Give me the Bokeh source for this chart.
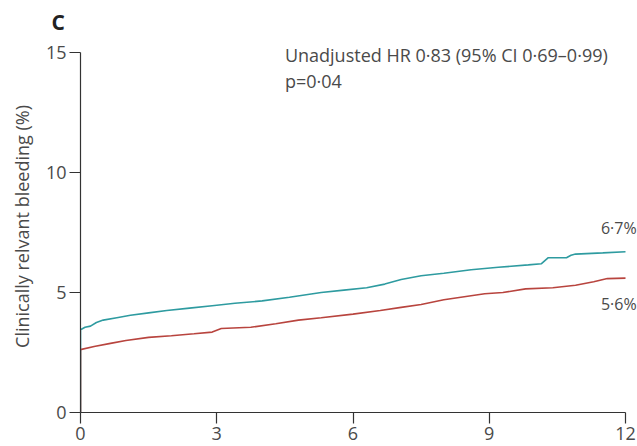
from bokeh.plotting import figure
from bokeh.models import Range1d, Label, FixedTicker
from bokeh.embed import file_html
from bokeh.resources import INLINE

# Data (months, cumulative %)
cyan_t = [0, 0, 0.1, 0.22, 0.35, 0.5, 0.8, 1.1, 1.5, 1.9, 2.4, 2.9, 3.4, 4.0, 4.6, 5.3,
          5.8, 6.3, 6.7, 7.06, 7.5, 8.0, 8.6, 9.2, 9.86, 10.15, 10.3, 10.7, 10.8, 10.9, 11.5, 12.0]
cyan_v = [0, 3.45, 3.55, 3.6, 3.75, 3.85, 3.95, 4.05, 4.15, 4.25, 4.35, 4.45, 4.55, 4.65, 4.8, 5.0,
          5.1, 5.2, 5.35, 5.54, 5.7, 5.8, 5.95, 6.05, 6.15, 6.2, 6.45, 6.45, 6.55, 6.6, 6.65, 6.7]
red_t = [0, 0, 0.3, 0.66, 1.0, 1.5, 2.0, 2.5, 2.9, 3.1, 3.75, 4.3, 4.8, 5.3, 6.0, 6.6,
         7.06, 7.5, 8.0, 8.9, 9.3, 9.8, 10.4, 10.9, 11.3, 11.6, 12.0]
red_v = [0, 2.62, 2.75, 2.88, 3.0, 3.13, 3.2, 3.28, 3.35, 3.5, 3.55, 3.7, 3.85, 3.95, 4.1, 4.25,
         4.38, 4.5, 4.7, 4.95, 5.0, 5.15, 5.2, 5.3, 5.45, 5.58, 5.6]
x_ticks = [0, 3, 6, 9, 12]
y_ticks = [0, 5, 10, 15]
end_labels = ["6·7%", "5·6%"]

FONT = "Open Sans"
TXT = "#4a4a4a"

LEFT, TOP, BOTTOM, W, H = 80, 40, 34, 637, 446
px_per_month = 545 / 12.0
px_per_pct = 24.0
x_end = (W - LEFT) / px_per_month
y_end = (H - TOP - BOTTOM) / px_per_pct

p = figure(width=W, height=H, output_backend="svg", toolbar_location=None,
           x_range=Range1d(0, x_end), y_range=Range1d(0, y_end),
           min_border_left=LEFT, min_border_right=0, min_border_top=TOP,
           min_border_bottom=BOTTOM)
p.outline_line_color = None
p.xgrid.visible = False
p.ygrid.visible = False
p.background_fill_color = "white"
p.border_fill_color = "white"

p.title.text = "C"
p.title.align = "left"
p.title.offset = -29
p.title.text_font = FONT
p.title.text_font_size = "21px"
p.title.text_font_style = "bold"
p.title.text_color = "#222222"
p.title.standoff = 10

p.line(cyan_t, cyan_v, line_color="#2e9ba0", line_width=1.6)
p.line(red_t, red_v, line_color="#b8443e", line_width=1.6)

for ax in (p.xaxis[0], p.yaxis[0]):
    ax.axis_line_color = "#333333"
    ax.axis_line_width = 1.2
    ax.major_tick_line_color = "#333333"
    ax.major_tick_line_width = 1.2
    ax.major_tick_in = 0
    ax.major_tick_out = 11
    ax.minor_tick_line_color = None
    ax.major_label_text_font = FONT
    ax.major_label_text_font_size = "18px"
    ax.major_label_text_color = TXT
    ax.major_label_standoff = 3

p.xaxis[0].ticker = FixedTicker(ticks=x_ticks)
p.yaxis[0].ticker = FixedTicker(ticks=y_ticks)
p.xaxis[0].bounds = (0, 12)
p.yaxis[0].bounds = (0, 15)
p.yaxis[0].axis_label = "Clinically relvant bleeding (%)"
p.yaxis[0].axis_label_text_font = FONT
p.yaxis[0].axis_label_text_font_style = "normal"
p.yaxis[0].axis_label_text_font_size = "18px"
p.yaxis[0].axis_label_text_color = TXT
p.yaxis[0].axis_label_standoff = 9

p.add_layout(Label(x=4.5, y=14.88, text="Unadjusted HR 0·83 (95% CI 0·69–0·99)",
                   text_font=FONT, text_font_size="18px", text_color=TXT,
                   text_align="left", text_baseline="middle"))
p.add_layout(Label(x=4.5, y=13.8, text="p=0·04",
                   text_font=FONT, text_font_size="18px", text_color=TXT,
                   text_align="left", text_baseline="middle"))
p.add_layout(Label(x=11.46, y=7.67, text=end_labels[0], text_font=FONT, text_font_size="16px",
                   text_color=TXT, text_align="left", text_baseline="middle"))
p.add_layout(Label(x=11.46, y=4.54, text=end_labels[1], text_font=FONT, text_font_size="16px",
                   text_color=TXT, text_align="left", text_baseline="middle"))

open("out.html", "w").write(file_html(p, INLINE))
